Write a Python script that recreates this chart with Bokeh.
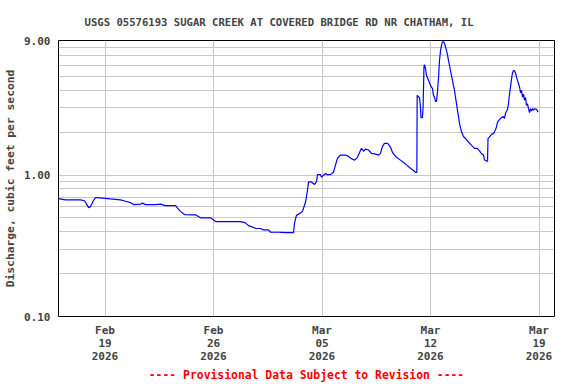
import pandas as pd
from bokeh.plotting import figure
from bokeh.models import FixedTicker, PrintfTickFormatter, DatetimeTickFormatter, Range1d
from bokeh.embed import file_html
from bokeh.resources import INLINE

# ---- data ----
start_date = "2026-02-16"
day_offset = [
    0.00, 0.45, 1.42, 1.68, 1.87, 1.94, 2.06, 2.25, 2.39, 2.52, 3.35, 4.00, 4.32, 4.65, 4.84,
    5.29, 5.42, 5.61, 6.26, 6.58, 6.90, 7.55, 7.68, 7.87, 8.13, 8.84, 9.16, 9.81, 10.13, 11.74,
    12.06, 12.26, 12.77, 13.03, 13.23, 13.55, 13.68, 14.19, 14.65, 15.16, 15.23, 15.35, 15.61,
    15.74, 15.94, 16.06, 16.13, 16.32, 16.52, 16.65, 16.71, 16.90, 16.97, 17.10, 17.23, 17.35,
    17.55, 17.74, 17.87, 18.00, 18.19, 18.52, 18.71, 18.90, 19.10, 19.29, 19.48, 19.55, 19.68,
    19.81, 20.00, 20.19, 20.45, 20.65, 20.77, 20.90, 21.03, 21.23, 21.42, 21.55, 21.74, 22.06,
    22.39, 22.71, 22.90, 23.03, 23.12, 23.14, 23.23, 23.29, 23.35, 23.39, 23.48, 23.52, 23.58,
    23.61, 23.68, 23.74, 23.87, 24.00, 24.13, 24.19, 24.26, 24.32, 24.39, 24.45, 24.52, 24.58,
    24.65, 24.71, 24.77, 24.84, 24.90, 24.97, 25.03, 25.10, 25.16, 25.23, 25.29, 25.35, 25.42,
    25.48, 25.55, 25.61, 25.68, 25.74, 25.81, 25.87, 25.94, 26.00, 26.13, 26.26, 26.45, 26.65,
    26.84, 27.03, 27.16, 27.29, 27.42, 27.48, 27.61, 27.68, 27.71, 27.81, 27.94, 28.06, 28.19,
    28.26, 28.32, 28.45, 28.58, 28.71, 28.77, 28.84, 28.97, 29.03, 29.10, 29.16, 29.23, 29.29,
    29.35, 29.42, 29.48, 29.55, 29.61, 29.68, 29.74, 29.81, 29.87, 29.94, 30.00, 30.06, 30.13,
    30.19, 30.26, 30.32, 30.39, 30.45, 30.52, 30.58, 30.65, 30.71, 30.84, 30.94,
]
discharge = [
    0.684, 0.67, 0.67, 0.66, 0.61, 0.59, 0.60, 0.66, 0.695, 0.695, 0.68, 0.67, 0.655, 0.64, 0.62,
    0.625, 0.635, 0.62, 0.62, 0.625, 0.61, 0.61, 0.585, 0.555, 0.527, 0.525, 0.50, 0.50, 0.47, 0.47,
    0.46, 0.44, 0.42, 0.42, 0.41, 0.41, 0.395, 0.395, 0.393, 0.393, 0.46, 0.52, 0.54,
    0.555, 0.647, 0.78, 0.897, 0.897, 0.86, 0.905, 1.01, 1.01, 0.97, 1.00, 1.03, 1.01,
    1.01, 1.05, 1.18, 1.32, 1.39, 1.39, 1.36, 1.31, 1.28, 1.34, 1.50, 1.55, 1.48,
    1.53, 1.51, 1.43, 1.41, 1.39, 1.43, 1.60, 1.68, 1.68, 1.58, 1.45, 1.36, 1.28,
    1.20, 1.12, 1.08, 1.05, 1.05, 3.68, 3.58, 3.55, 3.05, 2.56, 2.56, 2.98, 5.90,
    6.06, 5.70, 5.10, 4.70, 4.33, 4.10, 3.68, 3.58, 3.34, 3.34, 3.89, 4.97, 6.50,
    7.66, 8.30, 8.80, 8.80, 8.60, 8.10, 7.66, 7.10, 6.50, 5.97, 5.50, 5.10, 4.70,
    4.33, 4.00, 3.58, 3.21, 2.89, 2.59, 2.33, 2.16, 2.03, 1.88, 1.82, 1.72, 1.63,
    1.55, 1.55, 1.49, 1.42, 1.39, 1.29, 1.26, 1.26, 1.82, 1.87, 1.95, 1.97, 2.10,
    2.20, 2.38, 2.48, 2.56, 2.60, 2.52, 2.74, 2.93, 3.21, 3.79, 4.21, 4.83, 5.30,
    5.50, 5.50, 5.30, 4.97, 4.70, 4.45, 4.25, 3.84, 4.00, 3.58, 3.75, 3.40, 3.55,
    3.13, 3.20, 2.96, 2.78, 2.96, 2.85, 2.96, 2.89, 2.96, 2.93, 2.80,
]
x_tick_dates = ["2026-02-19", "2026-02-26", "2026-03-05", "2026-03-12", "2026-03-19"]
x_limits = ["2026-02-16", "2026-03-20"]
y_ticks = [0.1, 1.0, 9.0]
y_minor_ticks = [0.2, 0.3, 0.4, 0.5, 0.6, 0.7, 0.8, 0.9, 2, 3, 4, 5, 6, 7, 8]
title_text = "USGS 05576193 SUGAR CREEK AT COVERED BRIDGE RD NR CHATHAM, IL"
y_label = "Discharge, cubic feet per second"
footer_text = "---- Provisional Data Subject to Revision ----"

times = pd.Timestamp(start_date) + pd.to_timedelta(day_offset, unit="D")

FONT = "DejaVu Sans Mono"
GRID = "#c8c8c8"

p = figure(
    width=576, height=384,
    x_axis_type="datetime", y_axis_type="log",
    x_range=Range1d(pd.Timestamp(x_limits[0]), pd.Timestamp(x_limits[1])),
    y_range=Range1d(y_ticks[0], y_ticks[-1]),
    output_backend="svg", toolbar_location=None,
    min_border_left=58, min_border_right=22, min_border_top=40, min_border_bottom=68,
)
p.background_fill_color = "white"
p.border_fill_color = "white"
p.outline_line_color = "black"
p.outline_line_width = 1

# title
p.title.text = title_text
p.title.text_font = FONT
p.title.text_font_size = "10.6px"
p.title.text_font_style = "bold"
p.title.align = "left"
p.title.offset = 26
p.title.standoff = 25

# x axis
xticks_ms = [pd.Timestamp(d).value / 1e6 for d in x_tick_dates]
p.xaxis.ticker = FixedTicker(ticks=xticks_ms)
fmt = "%b\n%d\n%Y"
p.xaxis.formatter = DatetimeTickFormatter(
    milliseconds=fmt, seconds=fmt, minsec=fmt, minutes=fmt, hourmin=fmt,
    hours=fmt, days=fmt, months=fmt, years=fmt)
p.xaxis.major_label_text_font = FONT
p.xaxis.major_label_text_font_size = "11px"
p.xaxis.major_label_text_font_style = "bold"
p.xaxis.major_label_text_line_height = 1.0
p.xaxis.major_label_standoff = 7
p.xaxis.major_tick_out = 0
p.xaxis.major_tick_in = 0
p.xaxis.minor_tick_line_color = None
p.xaxis.major_tick_line_color = None
p.xaxis.axis_line_color = None
p.xaxis.axis_label = footer_text
p.xaxis.axis_label_text_font = FONT
p.xaxis.axis_label_text_font_size = "11.4px"
p.xaxis.axis_label_text_font_style = "bold"
p.xaxis.axis_label_text_color = "red"
p.xaxis.axis_label_standoff = 2

# y axis
p.yaxis.ticker = FixedTicker(ticks=y_ticks, minor_ticks=y_minor_ticks)
p.yaxis.formatter = PrintfTickFormatter(format="%.2f")
p.yaxis.major_label_text_font = FONT
p.yaxis.major_label_text_font_size = "11px"
p.yaxis.major_label_text_font_style = "bold"
p.yaxis.major_label_standoff = 8
p.yaxis.major_tick_out = 0
p.yaxis.major_tick_in = 0
p.yaxis.minor_tick_out = 0
p.yaxis.minor_tick_in = 0
p.yaxis.major_tick_line_color = None
p.yaxis.minor_tick_line_color = None
p.yaxis.axis_line_color = None
p.yaxis.axis_label = y_label
p.yaxis.axis_label_text_font = FONT
p.yaxis.axis_label_text_font_size = "11.3px"
p.yaxis.axis_label_text_font_style = "bold"
p.yaxis.axis_label_standoff = 4

# grids
p.xgrid.grid_line_color = GRID
p.ygrid.grid_line_color = GRID
p.ygrid.minor_grid_line_color = GRID

p.line(times, discharge, line_color="#0000ff", line_width=1.2)

open("out.html", "w").write(file_html(p, INLINE))
